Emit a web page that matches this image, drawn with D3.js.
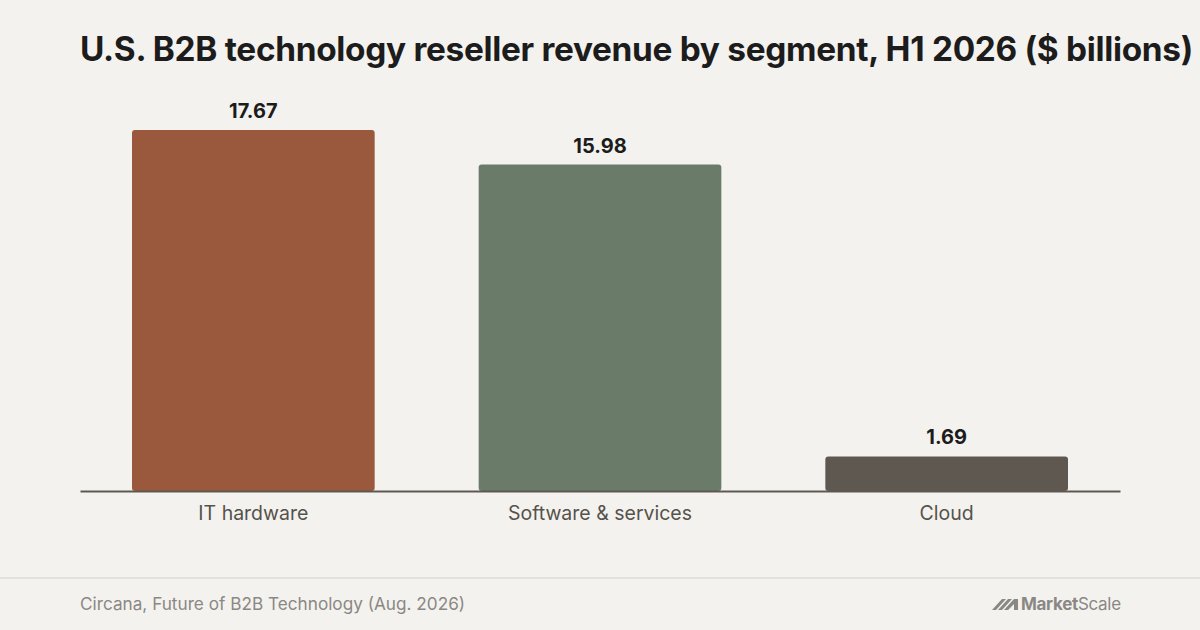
<!DOCTYPE html>
<html>
<head>
<meta charset="utf-8">
<script src="https://cdn.jsdelivr.net/npm/d3@7"></script>
<style>
  html, body { margin: 0; padding: 0; background: #f4f2ee; }
  text { font-family: Inter, "Noto Sans", sans-serif; }
</style>
</head>
<body>
<div id="main"></div>
<script>
// chart data
var segments = ["IT hardware", "Software & services", "Cloud"],
    revenue = [17.67, 15.98, 1.69],
    barColors = ["#9a593d", "#6b7b6a", "#5e5850"];

var titleText = "U.S. B2B technology reseller revenue by segment, H1 2026 ($ billions)",
    sourceText = "Circana, Future of B2B Technology (Aug. 2026)";

// layout
var width = 1200, height = 630,
    left = 80, right = 1120,
    baseY = 491, topY = 130;

var svg = d3.select('#main')
  .append('svg')
  .attr("width", width)
  .attr("height", height);

svg.append('rect')
  .attr("width", width).attr("height", height)
  .attr("fill", "#f4f2ee");

// title, fitted to the reference width
var title = svg.append('text')
  .attr("x", left).attr("y", 61)
  .attr("font-size", 34)
  .attr("font-weight", 700)
  .attr("fill", "#1c1c1c")
  .attr("letter-spacing", "-0.3")
  .text(titleText);
var tw = title.node().getComputedTextLength();
title.attr("font-size", 34 * 1114 / tw);

var x = d3.scaleBand()
  .domain(segments)
  .range([left, right])
  .paddingInner(0.3)
  .paddingOuter(0.15);

var y = d3.scaleLinear()
  .domain([0, d3.max(revenue)])
  .range([baseY, topY]);

var rows = segments.map(function(s, i) { return {seg: s, val: revenue[i], col: barColors[i]}; });

// bars
svg.selectAll('.bar')
  .data(rows)
  .enter().append('rect')
  .attr("class", "bar")
  .attr("x", function(d) { return x(d.seg); })
  .attr("y", function(d) { return y(d.val); })
  .attr("width", x.bandwidth())
  .attr("height", function(d) { return baseY - y(d.val); })
  .attr("rx", 3)
  .attr("fill", function(d) { return d.col; });

// value labels
svg.selectAll('.val')
  .data(rows)
  .enter().append('text')
  .attr("class", "val")
  .attr("x", function(d) { return x(d.seg) + x.bandwidth() / 2; })
  .attr("y", function(d) { return y(d.val) - 12; })
  .attr("text-anchor", "middle")
  .attr("font-size", 20)
  .attr("font-weight", 700)
  .attr("fill", "#1c1c1c")
  .text(function(d) { return d.val.toFixed(2); });

// baseline axis
var axis = svg.append('g')
  .attr("transform", "translate(0," + baseY + ")")
  .call(d3.axisBottom(x).tickSize(0).tickPadding(15).tickSizeOuter(0));
axis.select('.domain')
  .attr("stroke", "#5e5850")
  .attr("stroke-width", 2);
axis.selectAll('.tick text')
  .attr("font-family", "Inter, 'Noto Sans', sans-serif")
  .attr("font-size", 19.5)
  .attr("fill", "#55524d");

// footer
svg.append('line')
  .attr("x1", 0).attr("x2", width)
  .attr("y1", 578).attr("y2", 578)
  .attr("stroke", "#e4e1dc")
  .attr("stroke-width", 2);

svg.append('text')
  .attr("x", left).attr("y", 610)
  .attr("font-size", 17.2)
  .attr("fill", "#8a8884")
  .text(sourceText);

// logo mark + wordmark
var logo = svg.append('g').attr("transform", "translate(992,610)");
logo.append('path')
  .attr("d", "M0,0 L10,-11 L14,-11 L4,0 Z M6,0 L16,-11 L20,-11 L10,0 Z M12,0 L22,-11 L26,-11 L26,0 L22,0 L22,-6 L16,0 Z")
  .attr("fill", "#8a8884");
logo.append('text')
  .attr("x", 29).attr("y", 0)
  .attr("font-size", 17)
  .attr("fill", "#8a8884")
  .attr("letter-spacing", "-0.3")
  .call(function(t) {
    t.append('tspan').attr("font-weight", 700).text("Market");
    t.append('tspan').attr("font-weight", 400).text("Scale");
  });
</script>
</body>
</html>
